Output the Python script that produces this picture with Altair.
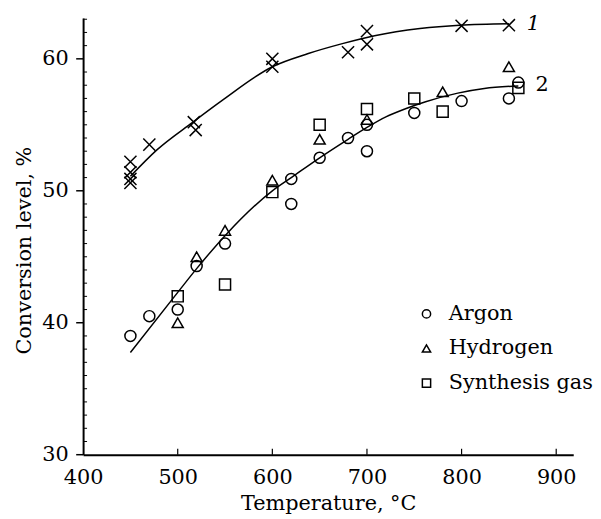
import altair as alt
import pandas as pd

FONT = "DejaVu Serif"
FS = 21

# Series 1 (crosses)
cross_t = [450, 450, 450, 450, 470, 517, 519, 600, 600, 680, 700, 700, 800, 850]
cross_v = [52.2, 51.4, 50.9, 50.6, 53.5, 55.2, 54.6, 60.0, 59.4, 60.5, 62.1, 61.1, 62.5, 62.55]

# Series 2 by gas
argon_t = [450, 470, 500, 520, 550, 620, 620, 650, 680, 700, 700, 750, 800, 850, 860]
argon_v = [39.0, 40.5, 41.0, 44.3, 46.0, 50.9, 49.0, 52.5, 54.0, 55.0, 53.0, 55.9, 56.8, 57.0, 58.2]
hydrogen_t = [500, 520, 550, 600, 650, 700, 780, 850]
hydrogen_v = [40.0, 45.0, 47.0, 50.8, 53.9, 55.4, 57.5, 59.4]
syngas_t = [500, 550, 600, 650, 700, 750, 780, 860]
syngas_v = [42.0, 42.9, 49.9, 55.0, 56.2, 57.0, 56.0, 57.8]

# Fitted curves
curve1_t = [450, 478, 516, 547, 600, 638, 674, 708, 756, 798, 850]
curve1_v = [51.1, 53.1, 55.2, 56.85, 59.4, 60.4, 61.15, 61.75, 62.3, 62.55, 62.65]
curve2_t = [450, 500, 520, 550, 600, 620, 650, 680, 700, 720, 740, 762, 796, 824, 860]
curve2_v = [37.75, 42.3, 44.1, 46.6, 50.0, 51.0, 52.5, 53.9, 54.8, 55.6, 56.2, 56.75, 57.4, 57.75, 57.95]

# Curve labels
label1_t, label1_v, label1_text = [869], [62.6], ["1"]
label2_t, label2_v, label2_text = [878], [58.0], ["2"]

# Axis ticks
x_ticks = [400, 500, 600, 700, 800, 900]
x_inner_ticks = [500, 600, 700, 800, 900]
y_major = [30, 40, 50, 60]
y_minor = [31, 32, 33, 34, 35, 36, 37, 38, 39, 41, 42, 43, 44, 45, 46, 47, 48, 49,
           51, 52, 53, 54, 55, 56, 57, 58, 59, 61, 62, 63]

W, H = 496, 442
xs = alt.Scale(domain=[400, 918], nice=False, zero=False)
ys = alt.Scale(domain=[30, 63.1], nice=False, zero=False)

gas_df = pd.DataFrame(
    {"T": argon_t + hydrogen_t + syngas_t,
     "v": argon_v + hydrogen_v + syngas_v,
     "gas": ["Argon"] * len(argon_t) + ["Hydrogen"] * len(hydrogen_t) + ["Synthesis gas"] * len(syngas_t)}
)
cross_df = pd.DataFrame({"T": cross_t, "v": cross_v})
curve_df = pd.DataFrame(
    {"T": curve1_t + curve2_t, "v": curve1_v + curve2_v,
     "c": ["1"] * len(curve1_t) + ["2"] * len(curve2_t)}
)
lab1_df = pd.DataFrame({"T": label1_t, "v": label1_v, "txt": label1_text})
lab2_df = pd.DataFrame({"T": label2_t, "v": label2_v, "txt": label2_text})

X = alt.X("T:Q", scale=xs,
          axis=alt.Axis(values=x_ticks, title="Temperature, °C", ticks=False, tickSize=0,
                        labelPadding=12, labelFlush=False, grid=False, domainWidth=2,
                        domainColor="black",
                        labelFont=FONT, labelFontSize=FS, labelColor="black",
                        titleFont=FONT, titleFontSize=FS, titleFontWeight="normal",
                        titleColor="black", titlePadding=5))
Y = alt.Y("v:Q", scale=ys,
          axis=alt.Axis(values=y_major, title="Conversion level, %", ticks=False, tickSize=0,
                        labelPadding=15, labelFlush=False, grid=False, domainWidth=2,
                        domainColor="black",
                        labelFont=FONT, labelFontSize=FS, labelColor="black",
                        titleFont=FONT, titleFontSize=FS, titleFontWeight="normal",
                        titleColor="black", titlePadding=8, titleY=235))

curves = alt.Chart(curve_df).mark_line(interpolate="monotone", color="black", strokeWidth=1.5).encode(
    x=X, y=Y, detail="c:N")

crosses = alt.Chart(cross_df).mark_point(
    shape="M-1,-1L1,1M-1,1L1,-1", filled=False, stroke="black", strokeWidth=1.5, size=150, opacity=1
).encode(x="T:Q", y="v:Q")

gases = alt.Chart(gas_df).mark_point(filled=False, stroke="black", strokeWidth=1.5, size=125, opacity=1).encode(
    x="T:Q", y="v:Q",
    shape=alt.Shape("gas:N",
                    scale=alt.Scale(domain=["Argon", "Hydrogen", "Synthesis gas"],
                                    range=["circle", "triangle-up", "square"]),
                    legend=alt.Legend(title=None, orient="none", legendX=337, legendY=289,
                                      labelFont=FONT, labelFontSize=FS, labelColor="black",
                                      symbolStrokeColor="black", symbolFillColor="transparent",
                                      symbolStrokeWidth=1.5, symbolSize=70, rowPadding=13,
                                      labelOffset=12, padding=0)))

lab1 = alt.Chart(lab1_df).mark_text(font=FONT, fontSize=FS, align="left", baseline="middle",
                                    fontStyle="italic", color="black").encode(
    x="T:Q", y="v:Q", text="txt:N")
lab2 = alt.Chart(lab2_df).mark_text(font=FONT, fontSize=FS, align="left", baseline="middle",
                                    color="black").encode(
    x="T:Q", y="v:Q", text="txt:N")

xtick_df = pd.DataFrame({"T": x_inner_ticks})
xticks = alt.Chart(xtick_df).mark_rule(color="black", strokeWidth=1.2).encode(
    x="T:Q", y=alt.value(H), y2=alt.value(H - 6))

ymaj_df = pd.DataFrame({"v": y_major})
ymaj = alt.Chart(ymaj_df).mark_rule(color="black", strokeWidth=1.5).encode(
    y="v:Q", x=alt.value(-7), x2=alt.value(0))

ymin_df = pd.DataFrame({"v": y_minor})
ymin = alt.Chart(ymin_df).mark_rule(color="black", strokeWidth=1).encode(
    y="v:Q", x=alt.value(0), x2=alt.value(4))

chart = alt.layer(curves, xticks, ymaj, ymin, crosses, gases, lab1, lab2).properties(
    width=W, height=H,
    autosize=alt.AutoSizeParams(type="none"),
    padding={"left": 76, "top": 7, "right": 20, "bottom": 60},
    background="white",
).configure_view(stroke=None)

chart.save("out.html", embed_options={"renderer": "svg", "actions": False})
